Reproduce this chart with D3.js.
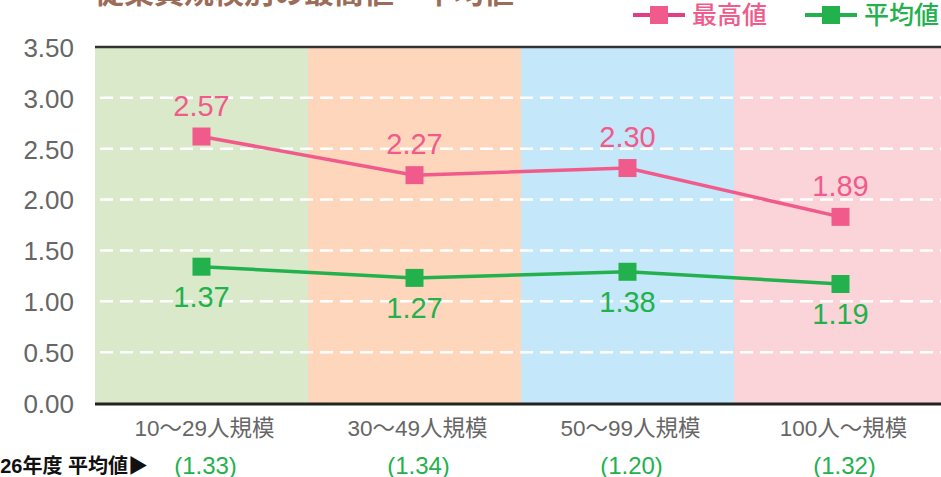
<!DOCTYPE html>
<html>
<head>
<meta charset="utf-8">
<script src="https://cdn.jsdelivr.net/npm/d3@7"></script>
<style>
  body { margin: 0; background: #fff; }
  svg { display: block; font-family: "Liberation Sans", "Noto Sans CJK JP", sans-serif; }
</style>
</head>
<body>
<svg id="chart"></svg>
<script>
const width = 941;
const height = 477;
const margin = { top: 47, right: -6, bottom: 74, left: 95 };

// data
const categories = ["10〜29人規模", "30〜49人規模", "50〜99人規模", "100人〜規模"];
const maxValues = [2.62, 2.24, 2.31, 1.83];      // marker positions
const maxLabels = ["2.57", "2.27", "2.30", "1.89"];
const avgValues = [1.34, 1.23, 1.29, 1.17];
const avgLabels = ["1.37", "1.27", "1.38", "1.19"];
const prevAvg = ["(1.33)", "(1.34)", "(1.20)", "(1.32)"];
const yTicks = [0, 0.5, 1, 1.5, 2, 2.5, 3, 3.5];
const bandColors = ["#d9e9c9", "#fed6bc", "#c4e7f9", "#fbd4d9"];

const pink = "#f05b8b";
const green = "#23b14d";

const svg = d3.select("#chart")
  .attr("width", width)
  .attr("height", height)
  .attr("viewBox", [0, 0, width, height]);

const x = d3.scaleBand()
  .domain(categories)
  .range([margin.left, width - margin.right]);

const y = d3.scaleLinear()
  .domain([0, 3.5])
  .range([height - margin.bottom, margin.top]);

// title (cut off at top)
svg.append("text")
  .attr("x", 94)
  .attr("y", 3)
  .attr("fill", "#9b6c57")
  .style("font-family", "'Noto Sans CJK JP', sans-serif")
  .style("font-weight", "bold")
  .style("font-size", "30px")
  .text("従業員規模別の最高値・平均値");

// background bands
svg.append("g").selectAll("rect")
  .data(categories)
  .join("rect")
  .attr("x", d => x(d))
  .attr("y", y(3.5))
  .attr("width", x.bandwidth())
  .attr("height", y(0) - y(3.5))
  .attr("fill", (d, i) => bandColors[i]);

// grid lines
svg.append("g").selectAll("line")
  .data(yTicks.filter(t => t > 0 && t < 3.5))
  .join("line")
  .attr("x1", margin.left + 5)
  .attr("x2", width)
  .attr("y1", d => y(d))
  .attr("y2", d => y(d))
  .attr("stroke", "#fff")
  .attr("stroke-width", 2.5)
  .attr("stroke-dasharray", "13 7");

// top and bottom lines
svg.append("line")
  .attr("x1", margin.left).attr("x2", width)
  .attr("y1", y(3.5)).attr("y2", y(3.5))
  .attr("stroke", "#333").attr("stroke-width", 2.5);

svg.append("line")
  .attr("x1", margin.left).attr("x2", width)
  .attr("y1", y(0) + 1).attr("y2", y(0) + 1)
  .attr("stroke", "#222").attr("stroke-width", 3);

// y axis labels
const yAxis = svg.append("g")
  .attr("transform", `translate(${margin.left - 21},0)`)
  .call(d3.axisLeft(y).tickValues(yTicks).tickFormat(d3.format(".2f")).tickSize(0).tickPadding(0));
yAxis.select(".domain").remove();
yAxis.selectAll("text")
  .attr("fill", "#666")
  .attr("dy", "0.36em")
  .style("font-family", "'Liberation Sans', sans-serif")
  .style("font-size", "26px");

// x axis labels
svg.append("g").selectAll("text")
  .data(categories)
  .join("text")
  .attr("x", d => x(d) + x.bandwidth() / 2 + 3)
  .attr("y", 436)
  .attr("text-anchor", "middle")
  .attr("fill", "#666")
  .style("font-size", "22.5px")
  .text(d => d);

// previous year averages
svg.append("text")
  .attr("x", 148)
  .attr("y", 473)
  .attr("text-anchor", "end")
  .attr("fill", "#111")
  .style("font-size", "20px")
  .style("font-weight", "bold")
  .text("H26年度 平均値▶");

svg.append("g").selectAll("text")
  .data(prevAvg)
  .join("text")
  .attr("x", (d, i) => x(categories[i]) + x.bandwidth() / 2 + 4)
  .attr("y", 474)
  .attr("text-anchor", "middle")
  .attr("fill", green)
  .style("font-size", "24px")
  .text(d => d);

// lines
const line = d3.line()
  .x((d, i) => x(categories[i]) + x.bandwidth() / 2)
  .y(d => y(d));

function drawSeries(values, labels, color, dy) {
  const g = svg.append("g");
  g.append("path")
    .attr("d", line(values))
    .attr("fill", "none")
    .attr("stroke", color)
    .attr("stroke-width", 3.5);
  g.selectAll("rect")
    .data(values)
    .join("rect")
    .attr("x", (d, i) => x(categories[i]) + x.bandwidth() / 2 - 9)
    .attr("y", d => y(d) - 9)
    .attr("width", 18)
    .attr("height", 18)
    .attr("fill", color);
  g.selectAll("text")
    .data(values)
    .join("text")
    .attr("x", (d, i) => x(categories[i]) + x.bandwidth() / 2)
    .attr("y", d => y(d) + dy)
    .attr("text-anchor", "middle")
    .attr("fill", color)
    .style("font-family", "'Liberation Sans', sans-serif")
    .style("font-size", "29px")
    .text((d, i) => labels[i]);
}

drawSeries(maxValues, maxLabels, pink, -21);
drawSeries(avgValues, avgLabels, green, 40);

// legend
const legend = [
  { name: "最高値", color: pink, line: "#e03f86", x: 633 },
  { name: "平均値", color: green, line: green, x: 805 }
];
const lg = svg.append("g").selectAll("g")
  .data(legend)
  .join("g")
  .attr("transform", d => `translate(${d.x},15)`);
lg.append("line")
  .attr("x1", 0).attr("x2", 52)
  .attr("stroke", d => d.line)
  .attr("stroke-width", 4);
lg.append("rect")
  .attr("x", 17).attr("y", -9)
  .attr("width", 18).attr("height", 18)
  .attr("fill", d => d.color);
lg.append("text")
  .attr("x", 59)
  .attr("y", 9)
  .attr("fill", d => d.color)
  .style("font-family", "'Noto Sans CJK JP', sans-serif")
  .style("font-size", "25px")
  .style("font-weight", "500")
  .text(d => d.name);
</script>
</body>
</html>
